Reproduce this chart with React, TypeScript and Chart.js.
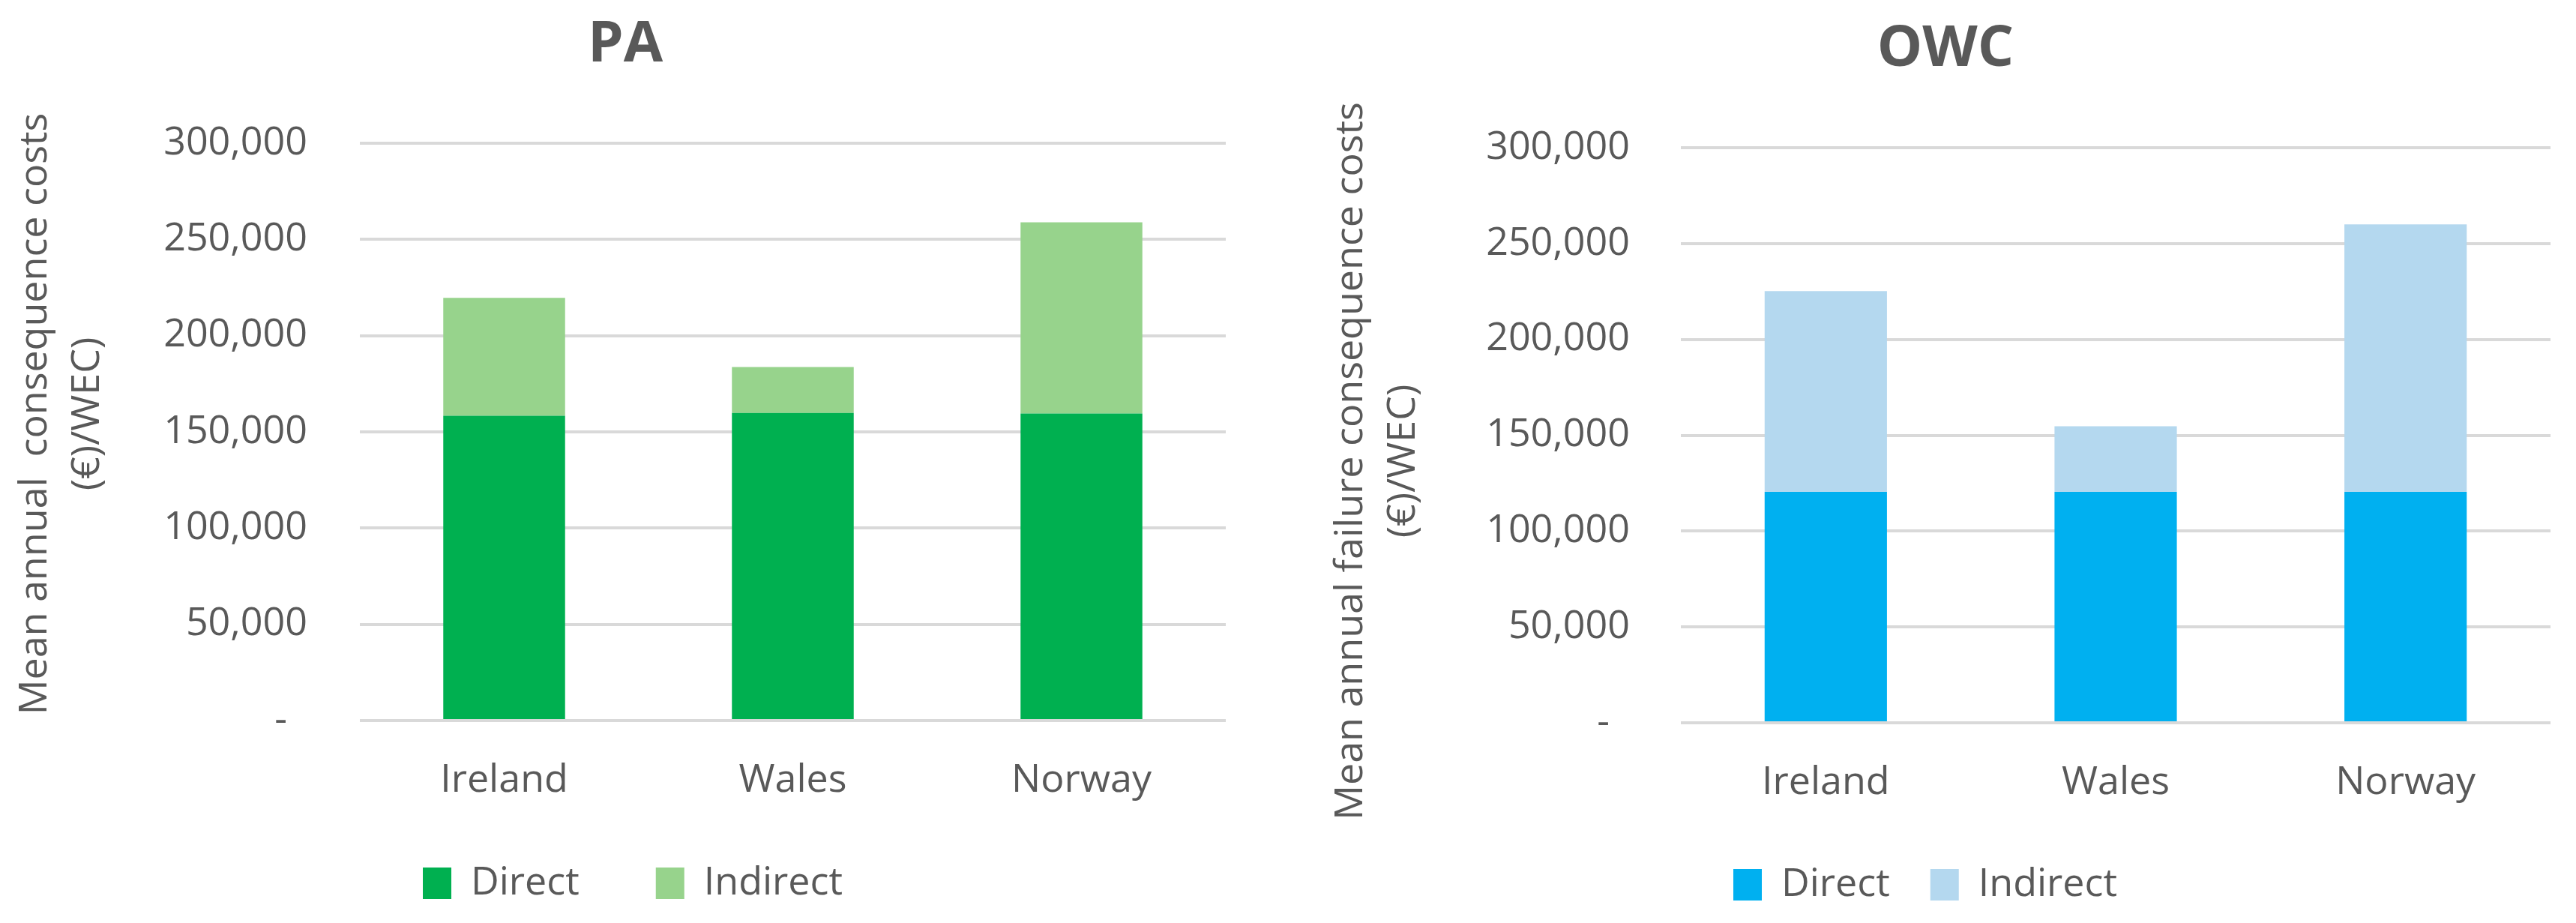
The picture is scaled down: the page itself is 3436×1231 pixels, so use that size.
import React, { useEffect, useRef } from 'react';
import { Chart, registerables } from 'chart.js';

Chart.register(...registerables);

// ---- Data ----
const categories = ['Ireland', 'Wales', 'Norway'];
const seriesNames = ['Direct', 'Indirect'];
const yTickValues = [0, 50000, 100000, 150000, 200000, 250000, 300000];

const paTitle = 'PA';
const paYTitle = ['Mean annual  consequence costs', '(€)/WEC)'];
const paDirect = [158400, 159800, 159500];
const paIndirect = [61200, 23900, 99400];

const owcTitle = 'OWC';
const owcYTitle = ['Mean annual failure consequence costs', '(€)/WEC)'];
const owcDirect = [120500, 120500, 120500];
const owcIndirect = [104700, 34200, 139500];

// ---- Styles ----
const TEXT = '#595959';
const FAMILY = "'Open Sans', 'Liberation Sans', sans-serif";
const H = 1231;

type Panel = {
  title: string;
  yTitle: string[];
  direct: number[];
  indirect: number[];
  colors: [string, string];
  left: number;
  width: number;
  padding: { top: number; left: number; right: number; bottom: number };
  yAxisWidth: number;
  xAxisHeight: number;
  tickPad: number;
  legendPad: number;
  titleX: number;
  titleY: number;
  yTitleX: number[];
  yTitleY: number;
};

const PA_PANEL: Panel = {
  title: paTitle,
  yTitle: paYTitle,
  direct: paDirect,
  indirect: paIndirect,
  colors: ['#00B050', '#97D38C'],
  left: 0,
  width: 1718,
  padding: { top: 191, left: 53, right: 83, bottom: 17 },
  yAxisWidth: 427,
  xAxisHeight: 89,
  tickPad: 70,
  legendPad: 102,
  titleX: 834,
  titleY: 60.5,
  yTitleX: [47, 117],
  yTitleY: 552,
};

const OWC_PANEL: Panel = {
  title: owcTitle,
  yTitle: owcYTitle,
  direct: owcDirect,
  indirect: owcIndirect,
  colors: ['#00B0F0', '#B4D8EF'],
  left: 1718,
  width: 1718,
  padding: { top: 197, left: 16, right: 34, bottom: 15 },
  yAxisWidth: 508,
  xAxisHeight: 136,
  tickPad: 68,
  legendPad: 54,
  titleX: 877,
  titleY: 66.5,
  yTitleX: [84, 154],
  yTitleY: 615,
};

function ChartPanel({ p }: { p: Panel }) {
  const ref = useRef<HTMLCanvasElement>(null);

  useEffect(() => {
    const canvas = ref.current;
    if (!canvas) return;

    const textPlugin = {
      id: 'panelTexts',
      afterDraw(chart: any) {
        const ctx = chart.ctx as CanvasRenderingContext2D;
        ctx.save();
        ctx.fillStyle = TEXT;
        ctx.textAlign = 'center';
        ctx.textBaseline = 'middle';
        ctx.font = `bold 76px ${FAMILY}`;
        ctx.fillText(p.title, p.titleX, p.titleY);
        ctx.font = `52px ${FAMILY}`;
        p.yTitle.forEach((line, i) => {
          ctx.save();
          ctx.translate(p.yTitleX[i], p.yTitleY);
          ctx.rotate(-Math.PI / 2);
          ctx.fillText(line, 0, 0);
          ctx.restore();
        });
        ctx.restore();
      },
    };

    const chart = new Chart(canvas, {
      type: 'bar',
      data: {
        labels: categories,
        datasets: [
          {
            label: seriesNames[0],
            data: p.direct,
            backgroundColor: p.colors[0],
            borderWidth: 0,
            barPercentage: 0.422,
            categoryPercentage: 1,
          },
          {
            label: seriesNames[1],
            data: p.indirect,
            backgroundColor: p.colors[1],
            borderWidth: 0,
            barPercentage: 0.422,
            categoryPercentage: 1,
          },
        ],
      },
      options: {
        responsive: false,
        animation: false,
        devicePixelRatio: 1,
        layout: { padding: p.padding },
        font: { family: FAMILY },
        plugins: {
          title: { display: false },
          tooltip: { enabled: false },
          legend: {
            display: true,
            position: 'bottom',
            labels: {
              boxWidth: 38,
              boxHeight: 42,
              padding: p.legendPad,
              color: TEXT,
              font: { size: 52, family: FAMILY },
            },
          },
        },
        scales: {
          x: {
            stacked: true,
            grid: { display: false, drawTicks: false },
            border: { display: false },
            ticks: { color: TEXT, font: { size: 52, family: FAMILY }, padding: 49 },
            afterFit: (s: any) => {
              s.height = p.xAxisHeight;
              // let category labels extend below the (fixed-height) axis box
              s._computeLabelArea = () => undefined;
            },
          },
          y: {
            stacked: true,
            min: 0,
            max: 300000,
            grid: { color: '#D9D9D9', lineWidth: 4, drawTicks: false },
            border: { display: false },
            ticks: {
              color: TEXT,
              font: { size: 52, family: FAMILY },
              padding: p.tickPad,
              callback: (v: any) => (Number(v) === 0 ? '-  ' : Number(v).toLocaleString('en-US')),
            },
            afterBuildTicks: (s: any) => {
              s.ticks = yTickValues.map((v) => ({ value: v }));
            },
            afterFit: (s: any) => {
              s.width = p.yAxisWidth;
            },
          },
        },
      },
      plugins: [textPlugin],
    } as any);

    return () => chart.destroy();
  }, [p]);

  return (
    <canvas
      ref={ref}
      width={p.width}
      height={H}
      style={{ position: 'absolute', left: p.left, top: 0, width: p.width, height: H, display: 'block' }}
    />
  );
}

export default function App() {
  return (
    <div
      style={{
        position: 'absolute',
        left: 0,
        top: 0,
        width: 3436,
        height: H,
        background: '#ffffff',
        overflow: 'hidden',
      }}
    >
      <ChartPanel p={PA_PANEL} />
      <ChartPanel p={OWC_PANEL} />
    </div>
  );
}
